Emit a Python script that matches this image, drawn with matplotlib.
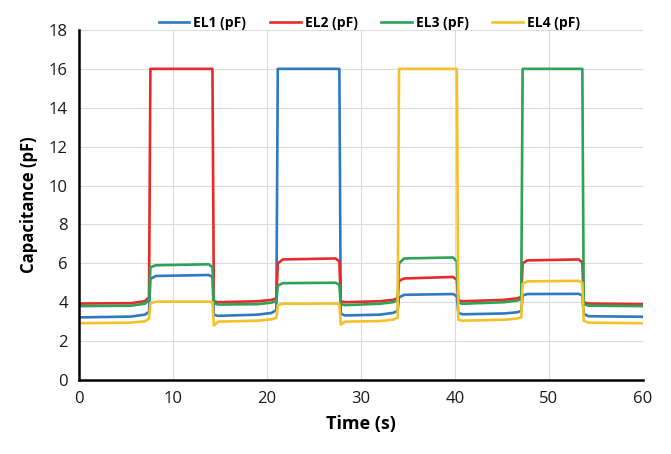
import matplotlib
matplotlib.use("Agg")
import matplotlib.pyplot as plt

plt.rcParams["font.family"] = ["Open Sans", "DejaVu Sans"]

# time axis (s) shared by all four electrodes
time_s = [0, 5.5, 7.0, 7.45, 7.6, 8.2, 13.8, 14.2, 14.35, 14.8,
          19.0, 20.5, 21.0, 21.15, 21.7, 27.3, 27.7, 27.85, 28.3,
          32.0, 33.4, 33.9, 34.05, 34.6, 39.8, 40.2, 40.35, 40.8,
          45.2, 46.6, 47.05, 47.2, 47.7, 53.15, 53.55, 53.7, 54.2, 60]

el1 = [3.22, 3.26, 3.36, 3.5, 5.2, 5.35, 5.4, 5.3, 3.35, 3.3,
       3.36, 3.45, 3.6, 16, 16, 16, 16, 3.4, 3.32,
       3.36, 3.45, 3.55, 4.25, 4.38, 4.42, 4.3, 3.45, 3.38,
       3.42, 3.48, 3.55, 4.35, 4.42, 4.43, 4.35, 3.4, 3.28, 3.25]

el2 = [3.93, 3.95, 4.05, 4.25, 16, 16, 16, 16, 4.05, 4.0,
       4.05, 4.12, 4.2, 6.0, 6.2, 6.25, 6.1, 4.05, 4.0,
       4.05, 4.12, 4.2, 5.1, 5.22, 5.3, 5.15, 4.1, 4.05,
       4.12, 4.2, 4.27, 6.0, 6.15, 6.2, 6.05, 4.0, 3.93, 3.9]

el3 = [3.8, 3.82, 3.92, 4.1, 5.8, 5.9, 5.95, 5.8, 3.95, 3.88,
       3.9, 3.98, 4.05, 4.85, 4.98, 5.0, 4.9, 3.9, 3.85,
       3.92, 4.0, 4.1, 6.0, 6.25, 6.3, 6.1, 3.98, 3.92,
       4.0, 4.08, 4.15, 16, 16, 16, 16, 3.9, 3.82, 3.8]

el4 = [2.92, 2.95, 3.02, 3.15, 3.95, 4.03, 4.03, 4.0, 2.8, 3.0,
       3.05, 3.12, 3.2, 3.85, 3.92, 3.93, 3.9, 2.85, 3.0,
       3.03, 3.1, 3.2, 16, 16, 16, 16, 3.1, 3.05,
       3.1, 3.16, 3.22, 4.95, 5.07, 5.1, 5.0, 3.05, 2.95, 2.92]

series = [("EL1 (pF)", el1, "#2f78c2"),
          ("EL2 (pF)", el2, "#e82a2a"),
          ("EL3 (pF)", el3, "#2ea256"),
          ("EL4 (pF)", el4, "#f5c12a")]

fig = plt.figure(figsize=(6.71, 4.54), dpi=100)
ax = fig.add_axes([0.1177, 0.163, 0.8405, 0.771])

for name, vals, col in series:
    ax.plot(time_s, vals, color=col, lw=1.9, label=name)

ax.set_xlim(0, 60)
ax.set_ylim(0, 18)
ax.set_xticks(range(0, 61, 10))
ax.set_yticks(range(0, 19, 2))
ax.grid(True, color="#dcdcdc", lw=0.8)
ax.set_axisbelow(True)

for side in ["top", "right"]:
    ax.spines[side].set_visible(False)
for side in ["left", "bottom"]:
    ax.spines[side].set_color("black")
    ax.spines[side].set_linewidth(1.8)

ax.tick_params(length=0, labelsize=12, pad=8, colors="#1a1a1a")
ax.set_xlabel("Time (s)", fontsize=13, fontweight="bold", labelpad=6)
ax.set_ylabel("Capacitance (pF)", fontsize=12, fontweight="bold", labelpad=8)

leg = ax.legend(loc="lower center", bbox_to_anchor=(0.515, 0.985), ncol=4,
                frameon=False, handlelength=2.2, columnspacing=1.7,
                handletextpad=0.3, borderaxespad=0,
                prop={"weight": "bold", "size": 10})

fig.savefig("out.png", dpi=100)
